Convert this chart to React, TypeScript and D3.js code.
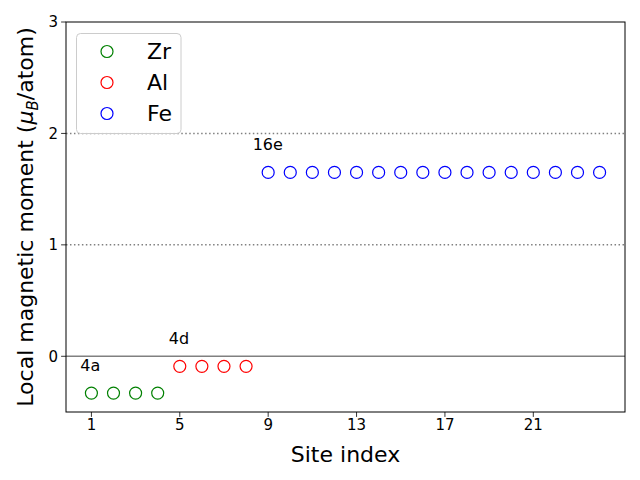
import React from "react";
import * as d3 from "d3";

const zrSites = [1, 2, 3, 4];
const zrValues = [-0.33, -0.33, -0.33, -0.33];
const alSites = [5, 6, 7, 8];
const alValues = [-0.09, -0.09, -0.09, -0.09];
const feSites = [9, 10, 11, 12, 13, 14, 15, 16, 17, 18, 19, 20, 21, 22, 23, 24];
const feValues = [1.65, 1.65, 1.65, 1.65, 1.65, 1.65, 1.65, 1.65, 1.65, 1.65, 1.65, 1.65, 1.65, 1.65, 1.65, 1.65];
const xTicks = [1, 5, 9, 13, 17, 21];
const yTicks = [0, 1, 2, 3];
const dottedLevels = [1, 2];
const annotations = [
  { text: "4a", x: 0.5, y: -0.13 },
  { text: "4d", x: 4.5, y: 0.11 },
  { text: "16e", x: 8.3, y: 1.85 },
];
const seriesNames = ["Zr", "Al", "Fe"];
const seriesColors = ["green", "red", "blue"];

const W = 640, H = 480;
const L = 66, R = 625, T = 22, B = 412;

export default function App() {
  const x = d3.scaleLinear().domain([-0.15, 25.15]).range([L, R]);
  const y = d3.scaleLinear().domain([-0.5, 3]).range([B, T]);
  const series = [
    { sites: zrSites, values: zrValues },
    { sites: alSites, values: alValues },
    { sites: feSites, values: feValues },
  ];
  const font = "DejaVu Sans, sans-serif";
  return (
    <svg width={W} height={H} style={{ position: "absolute", left: 0, top: 0, background: "white" }} fontFamily={font}>
      <rect x={0} y={0} width={W} height={H} fill="white" />
      {/* reference lines */}
      <line x1={L} x2={R} y1={y(0)} y2={y(0)} stroke="#808080" strokeWidth={1.5} />
      {dottedLevels.map((v) => (
        <line key={v} x1={L} x2={R} y1={y(v)} y2={y(v)} stroke="#808080" strokeWidth={1.5} strokeDasharray="1.5,2.475" />
      ))}
      {/* points */}
      {series.map((s, si) =>
        s.sites.map((site, i) => (
          <circle key={si + "-" + i} cx={x(site)} cy={y(s.values[i])} r={6} fill="none" stroke={seriesColors[si]} strokeWidth={1.2} />
        ))
      )}
      {/* annotations */}
      {annotations.map((a) => (
        <text key={a.text} x={x(a.x)} y={y(a.y)} fontSize={16} fill="black">{a.text}</text>
      ))}
      {/* axes frame */}
      <rect x={L} y={T} width={R - L} height={B - T} fill="none" stroke="black" strokeWidth={1} />
      {/* x ticks */}
      {xTicks.map((t) => (
        <g key={t}>
          <line x1={x(t)} x2={x(t)} y1={B} y2={B + 4.9} stroke="black" strokeWidth={0.8} />
          <text x={x(t)} y={B + 7} dy="0.76em" textAnchor="middle" fontSize={15} fill="black">{t}</text>
        </g>
      ))}
      {yTicks.map((t) => (
        <g key={t}>
          <line x1={L - 4.9} x2={L} y1={y(t)} y2={y(t)} stroke="black" strokeWidth={0.8} />
          <text x={L - 8} y={y(t)} dy="0.36em" textAnchor="end" fontSize={15} fill="black">{t}</text>
        </g>
      ))}
      {/* axis labels */}
      <text x={(L + R) / 2} y={462} textAnchor="middle" fontSize={22} fill="black">Site index</text>
      <text transform={`translate(33,${(T + B) / 2}) rotate(-90)`} textAnchor="middle" fontSize={22} fill="black">
        Local magnetic moment (<tspan fontStyle="italic">μ</tspan>
        <tspan fontStyle="italic" fontSize={15} dy={5}>B</tspan>
        <tspan dy={-5}>/atom)</tspan>
      </text>
      {/* legend */}
      <rect x={76.5} y={33.5} width={104.5} height={100} rx={4} fill="white" fillOpacity={0.8} stroke="#cccccc" strokeWidth={1} />
      {seriesNames.map((n, i) => (
        <g key={n}>
          <circle cx={107} cy={51.5 + i * 31} r={6} fill="none" stroke={seriesColors[i]} strokeWidth={1.2} />
          <text x={147} y={51.5 + i * 31} dy="0.36em" fontSize={22} fill="black">{n}</text>
        </g>
      ))}
    </svg>
  );
}
